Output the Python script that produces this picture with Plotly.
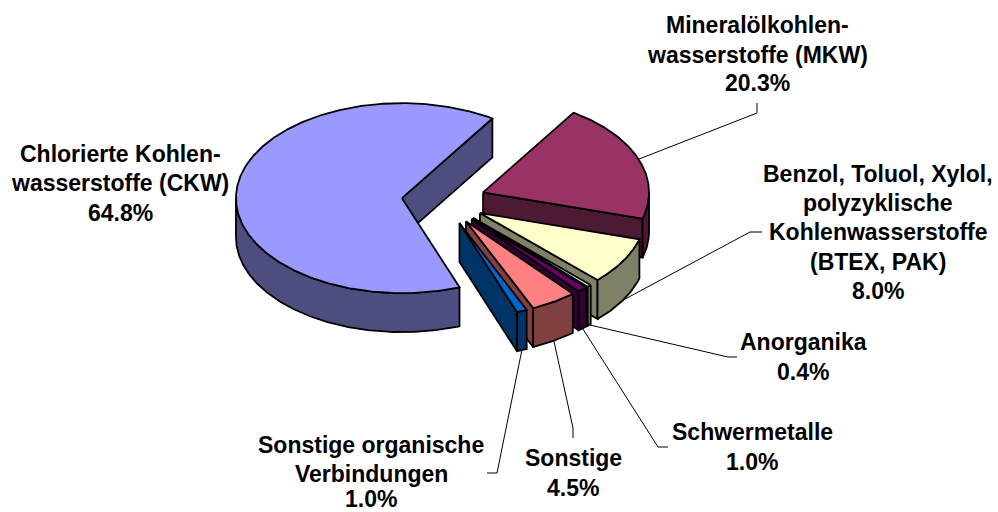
import numpy as np
import plotly.graph_objects as go

# ---- data (clockwise from the start angle) ----
categories = ["Mineralölkohlen-\nwasserstoffe (MKW)",
              "Benzol, Toluol, Xylol,\npolyzyklische\nKohlenwasserstoffe\n(BTEX, PAK)",
              "Anorganika", "Schwermetalle", "Sonstige",
              "Sonstige organische\nVerbindungen",
              "Chlorierte Kohlen-\nwasserstoffe (CKW)"]
values = [20.3, 8.0, 0.4, 1.0, 4.5, 1.0, 64.8]

top_colors = ["#993366", "#FFFFCC", "#CCFFFF", "#660066", "#FF8080", "#0066CC", "#9999FF"]
side_colors = ["#4D1933", "#808066", "#668080", "#330033", "#804040", "#003366", "#4D4D80"]

# ---- pie geometry in page pixels ----
START = 33.0
CX, CY = 443.7, 200.8
RX, RY = 166.0, 95.0
DEPTH = 39.0
EXPLODE = 42.0
DRAW_ORDER = [6, 0, 1, 2, 3, 4, 5]

# label placement: centre x, then y of each text line
label_x = [757, 878, 803, 752, 573, 371, 120]
label_y = [[25, 55, 83], [174, 203, 232, 262, 291], [342, 372], [432, 462],
           [458, 488], [445, 474, 499], [154, 183, 213]]
# leader elbows
leader_x = [[757, 757], [750, 762], [728, 737], [658, 668], [573, 573], [497, 487], []]
leader_y = [[113, 103], [232, 232], [357, 357], [447, 447], [428, 438], [473, 473], []]


def unit(a):
    r = np.radians(a)
    return np.sin(r), -np.cos(r)


fig = go.Figure()


def poly(xs, ys, fill):
    fig.add_trace(go.Scatter(x=list(xs), y=list(ys), mode="lines", fill="toself",
                             fillcolor=fill, line=dict(color="black", width=1.8),
                             hoverinfo="skip", showlegend=False))


# slice angles from the values
spans = [v / sum(values) * 360 for v in values]
starts = START + np.concatenate([[0], np.cumsum(spans)[:-1]])
ends = starts + np.array(spans)
mids = (starts + ends) / 2

apex_x = [CX + EXPLODE * unit(m)[0] for m in mids]
apex_y = [CY + EXPLODE * RY / RX * unit(m)[1] for m in mids]

# leaders go under the slices
for i in range(len(values)):
    if not leader_x[i]:
        continue
    ux, uy = unit(mids[i])
    sx = apex_x[i] + RX * ux
    sy = apex_y[i] + RY * uy + (DEPTH if 90 < mids[i] < 270 else 0)
    fig.add_trace(go.Scatter(x=[sx] + leader_x[i], y=[sy] + leader_y[i], mode="lines",
                             line=dict(color="black", width=1), hoverinfo="skip", showlegend=False))


def arc(i, a1, a2):
    t = np.linspace(a1, a2, max(2, int(abs(a2 - a1) * 2) + 1))
    ux, uy = unit(t)
    return apex_x[i] + RX * ux, apex_y[i] + RY * uy


for i in DRAW_ORDER:
    s, e = starts[i], ends[i]
    ax, ay = apex_x[i], apex_y[i]
    # cut faces turned towards the viewer
    for ang, normal in ((s, s - 90), (e, e + 90)):
        if -np.cos(np.radians(normal)) > 0:
            ox, oy = unit(ang)
            ox, oy = ax + RX * ox, ay + RY * oy
            poly([ax, ox, ox, ax, ax], [ay, oy, oy + DEPTH, ay + DEPTH, ay], side_colors[i])
    # outer wall
    w1, w2 = max(s, 90), min(e, 270)
    if w2 > w1:
        x, y = arc(i, w1, w2)
        poly(np.r_[x, x[::-1], x[0]], np.r_[y, y[::-1] + DEPTH, y[0]], side_colors[i])
    # top
    x, y = arc(i, s, e)
    poly(np.r_[ax, x, ax], np.r_[ay, y, ay], top_colors[i])

# labels, one annotation per text line
for i, cat in enumerate(categories):
    lines = cat.split("\n") + [f"{values[i]:.1f}%"]
    for text, yy in zip(lines, label_y[i]):
        fig.add_annotation(x=label_x[i], y=yy, text=f"<b>{text}</b>", showarrow=False,
                           xanchor="center", yanchor="middle", align="center",
                           font=dict(family="Liberation Sans, Arial, sans-serif", size=23, color="black"))

fig.update_layout(width=998, height=512, autosize=False,
                  margin=dict(l=0, r=0, t=0, b=0),
                  paper_bgcolor="white", plot_bgcolor="white", showlegend=False,
                  xaxis=dict(range=[0, 998], visible=False, fixedrange=True),
                  yaxis=dict(range=[512, 0], visible=False, fixedrange=True))

fig.write_html("out.html", config={"displayModeBar": False},
               post_script="document.body.style.margin='0';document.body.style.overflow='hidden';")
